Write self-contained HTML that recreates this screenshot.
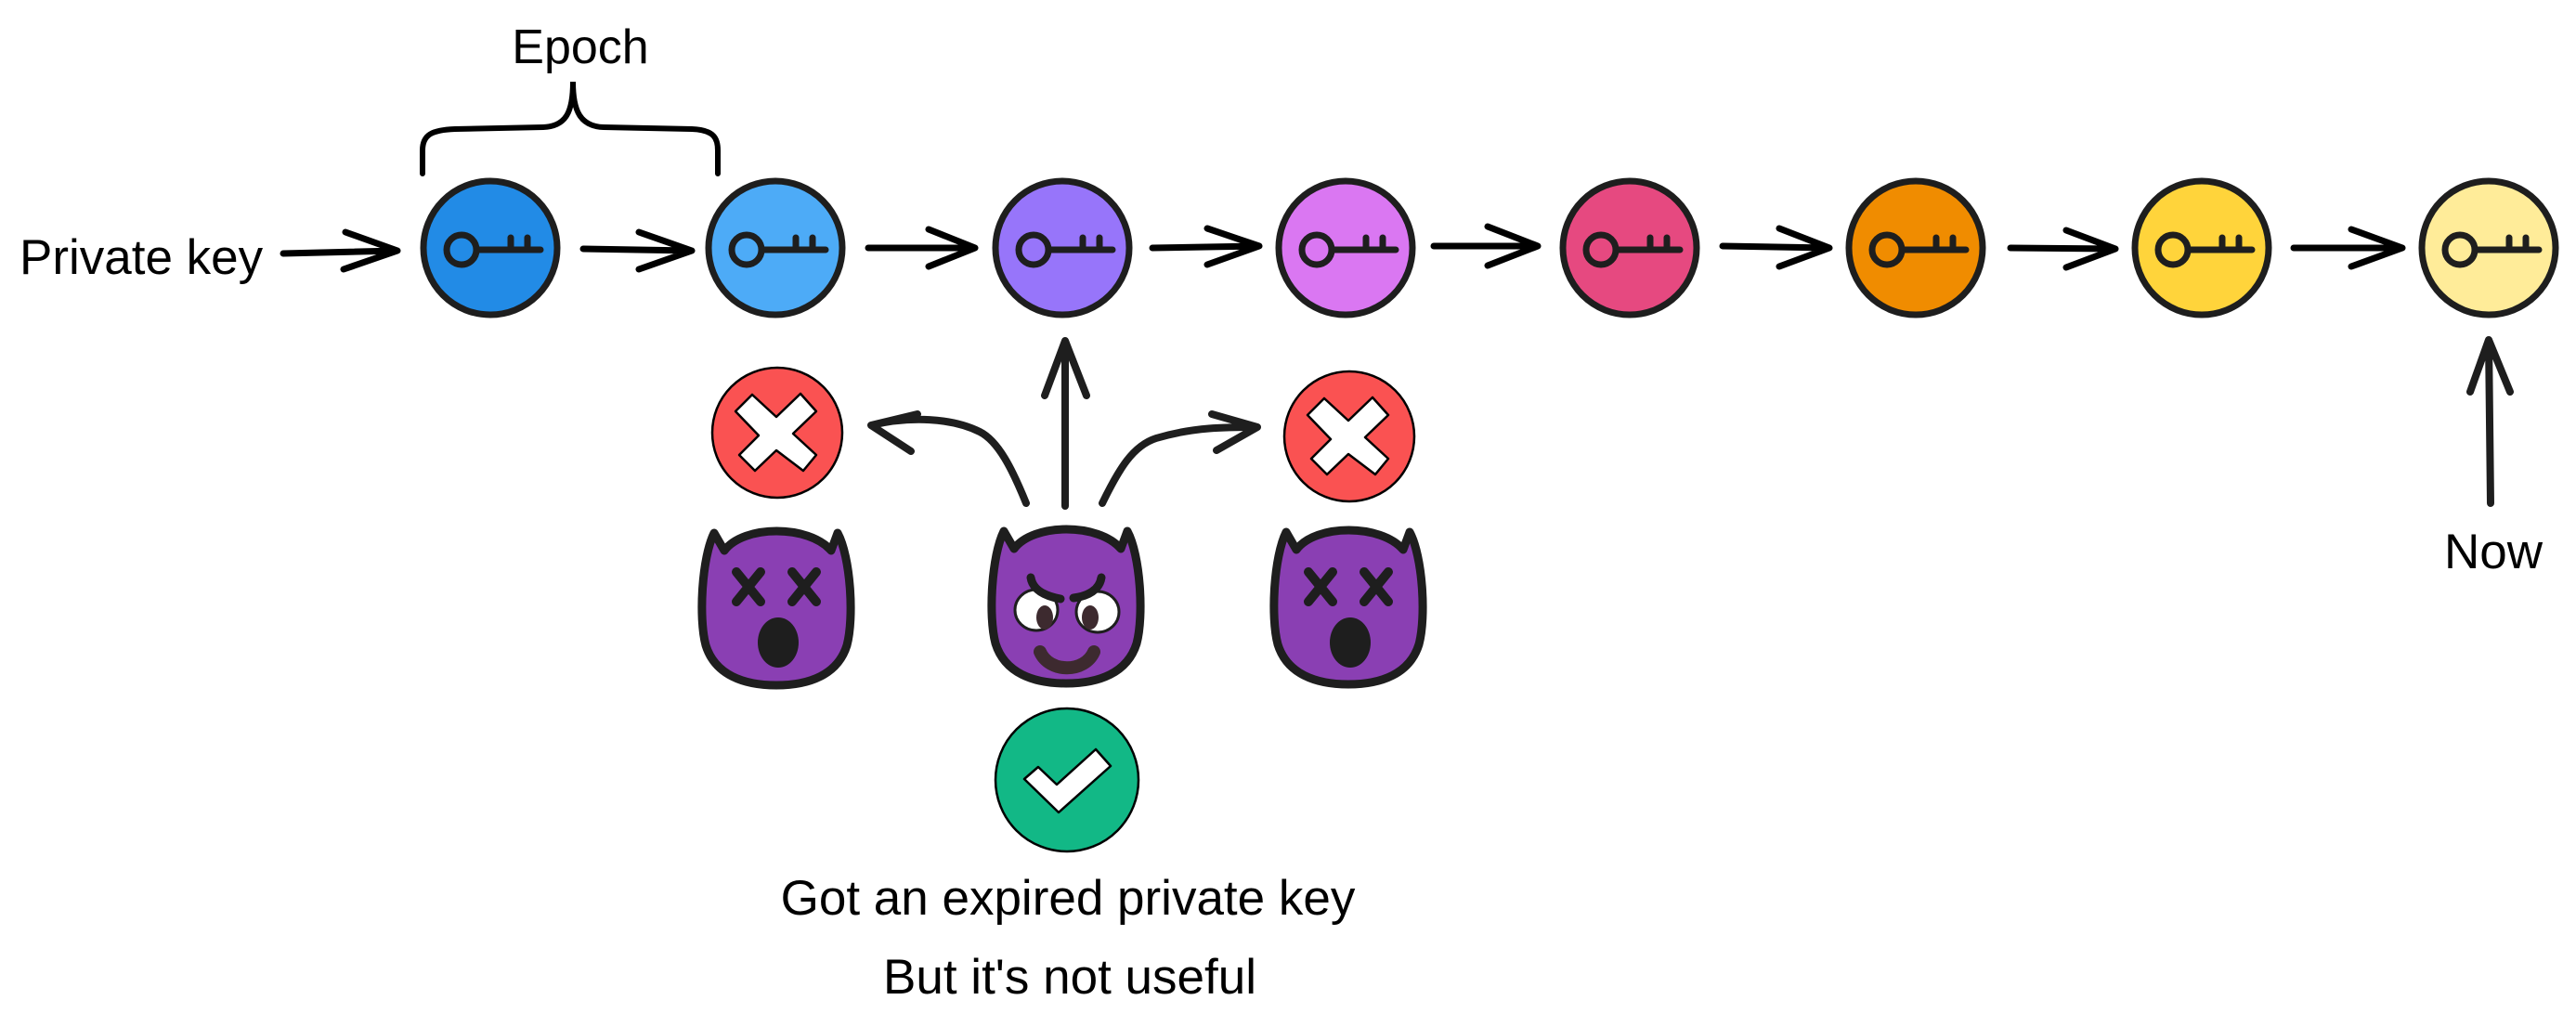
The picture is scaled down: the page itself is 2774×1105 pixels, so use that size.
<!DOCTYPE html>
<html><head><meta charset="utf-8"><style>html,body{margin:0;padding:0;background:#fff}svg{display:block}text{font-family:"Liberation Sans",sans-serif;fill:#000}</style></head>
<body>
<svg width="2774" height="1105" viewBox="0 0 2774 1105" xmlns="http://www.w3.org/2000/svg">
<defs>
<g id="key" fill="none" stroke="#1e1e1e" stroke-width="7" stroke-linecap="round">
<circle cx="-31" cy="2" r="16"/>
<path d="M-15 2 H54 M22 2 V-11 M40 2 V-11"/>
</g>
<g id="cross">
<polygon points="-27,-41 -1,-17 25,-42 42,-23 17,1 42,24 28,41 -1,19 -24,41 -41,24 -20,3 -45,-23" fill="#fff" stroke="#000" stroke-width="2.5" stroke-linejoin="round"/>
</g>
<path id="devil" d="M-67,-81 L-56,-62 C-35,-90 35,-90 59,-62 L66,-81 C80,-55 84,10 76,40 C66,72 35,83 0,83 C-35,83 -66,72 -76,40 C-84,10 -80,-55 -67,-81 Z" fill="#8a3fb3" stroke="#1e1e1e" stroke-width="9" stroke-linejoin="round"/>
</defs>

<text x="625" y="68" font-size="52" text-anchor="middle">Epoch</text>
<path d="M455,187 L455,162 C455,145 465,140 490,139 L585,137 C610,136 617,120 617,88 C617,120 625,136 650,137 L745,139 C770,140 773,150 773,162 L773,187" fill="none" stroke="#000" stroke-width="6" stroke-linecap="round"/>

<text x="21" y="295" font-size="53">Private key</text>

<g fill="none" stroke="#000" stroke-width="7" stroke-linecap="round" stroke-linejoin="round">
<path d="M305,273 L428,270 M372,250 L428,270 L370,290"/>
<path d="M628,268 L745,270 M688,250 L745,270 L688,290"/>
<path d="M935,267 L1050,267 M1000,247 L1050,267 L1000,287"/>
<path d="M1241,267 L1356,265 M1300,246 L1356,265 L1300,285"/>
<path d="M1544,265 L1656,265 M1602,244 L1656,265 L1602,286"/>
<path d="M1855,265 L1970,267 M1916,246 L1970,267 L1916,287"/>
<path d="M2165,267 L2278,268 M2225,248 L2278,268 L2225,288"/>
<path d="M2470,267 L2587,267 M2532,247 L2587,267 L2532,287"/>
</g>

<g stroke="#1e1e1e" stroke-width="7">
<circle cx="528" cy="267" r="72" fill="#228be6"/>
<circle cx="835" cy="267" r="72" fill="#4dabf7"/>
<circle cx="1144" cy="267" r="72" fill="#9775fa"/>
<circle cx="1449" cy="267" r="72" fill="#da77f2"/>
<circle cx="1755" cy="267" r="72" fill="#e64980"/>
<circle cx="2063" cy="267" r="72" fill="#f08c00"/>
<circle cx="2371" cy="267" r="72" fill="#ffd43b"/>
<circle cx="2680" cy="267" r="72" fill="#ffec99"/>
</g>
<use href="#key" x="528" y="267"/><use href="#key" x="835" y="267"/><use href="#key" x="1144" y="267"/><use href="#key" x="1449" y="267"/><use href="#key" x="1755" y="267"/><use href="#key" x="2063" y="267"/><use href="#key" x="2371" y="267"/><use href="#key" x="2680" y="267"/>

<g fill="none" stroke="#1e1e1e" stroke-width="8" stroke-linecap="round" stroke-linejoin="round">
<path d="M1147,545 L1147,367 M1125,426 L1147,367 L1170,426"/>
<path d="M1105,542 C1090,505 1075,475 1055,465 C1025,450 980,448 938,458 M988,446 L938,458 L981,486"/>
<path d="M1187,542 C1205,505 1220,480 1245,472 C1285,460 1320,460 1354,460 M1305,446 L1354,460 L1310,485"/>
<path d="M2682,542 L2680,366 M2660,422 L2680,366 L2703,422"/>
</g>
<text x="2685" y="612" font-size="53" text-anchor="middle">Now</text>

<circle cx="837" cy="466" r="70" fill="#fa5252" stroke="#000" stroke-width="2.5"/>
<use href="#cross" x="837" y="466"/>
<circle cx="1453" cy="470" r="70" fill="#fa5252" stroke="#000" stroke-width="2.5"/>
<use href="#cross" x="1453" y="470"/>

<use href="#devil" x="836" y="655"/>
<use href="#devil" x="1148" y="653"/>
<use href="#devil" x="1452" y="654"/>
<g stroke="#1e1e1e" stroke-width="10" stroke-linecap="round">
<path d="M793,616 L819,648 M819,616 L793,648 M853,616 L879,648 M879,616 L853,648"/>
<path d="M1409,616 L1435,648 M1435,616 L1409,648 M1469,616 L1495,648 M1495,616 L1469,648"/>
</g>
<ellipse cx="838" cy="692" rx="22" ry="27" fill="#1e1e1e"/>
<ellipse cx="1454" cy="692" rx="22" ry="27" fill="#1e1e1e"/>
<g stroke="#1e1e1e" stroke-width="3">
<ellipse cx="1116" cy="657" rx="23" ry="22" fill="#fff"/>
<ellipse cx="1182" cy="659" rx="23" ry="22" fill="#fff"/>
</g>
<ellipse cx="1125" cy="665" rx="9" ry="13" fill="#3d2a2f"/>
<ellipse cx="1174" cy="665" rx="9" ry="13" fill="#3d2a2f"/>
<g fill="none" stroke="#1e1e1e" stroke-width="9" stroke-linecap="round">
<path d="M1110,622 C1112,635 1125,642 1142,645"/>
<path d="M1186,622 C1184,635 1172,642 1156,644"/>
</g>
<path d="M1120,702 C1130,725 1168,725 1178,702" fill="none" stroke="#3d2a2f" stroke-width="14" stroke-linecap="round"/>

<circle cx="1149" cy="840" r="77" fill="#12b886" stroke="#000" stroke-width="2.5"/>
<polygon points="1103,839 1118,826 1138,845 1180,807 1196,825 1140,875" fill="#fff" stroke="#000" stroke-width="2.5" stroke-linejoin="round"/>

<text x="1150" y="985" font-size="53" text-anchor="middle">Got an expired private key</text>
<text x="1152" y="1070" font-size="53" text-anchor="middle">But it's not useful</text>
</svg>
</body></html>
